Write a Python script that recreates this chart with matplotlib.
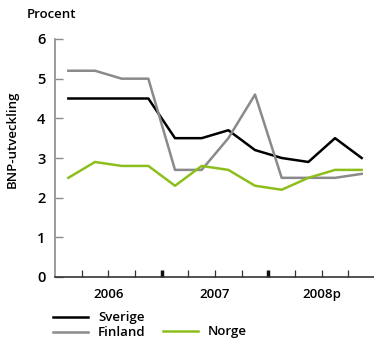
import numpy as np
import matplotlib.pyplot as plt

plt.rcParams['font.family'] = ['Open Sans', 'DejaVu Sans']

# quarterly GDP growth, 2006 Q1 .. 2008 Q4 (2008 forecast)
sverige = [4.5, 4.5, 4.5, 4.5, 3.5, 3.5, 3.7, 3.2, 3.0, 2.9, 3.5, 3.0]
finland = [5.2, 5.2, 5.0, 5.0, 2.7, 2.7, 3.5, 4.6, 2.5, 2.5, 2.5, 2.6]
norge = [2.5, 2.9, 2.8, 2.8, 2.3, 2.8, 2.7, 2.3, 2.2, 2.5, 2.7, 2.7]
years = ['2006', '2007', '2008p']

x = np.arange(len(sverige)) + 0.5
W = 600  # semibold
FS = 9.5

fig = plt.figure(figsize=(3.74, 3.40), dpi=100)
ax = fig.add_axes([55/374, 63/340, 319/374, 238/340])

ax.plot(x, sverige, color='black', lw=1.8, label='Sverige')
ax.plot(x, finland, color='#8a8a8a', lw=1.8, label='Finland')
ax.plot(x, norge, color='#8dbf1c', lw=1.8, label='Norge')

ax.set_xlim(0, 319/26.67)
ax.set_ylim(0, 6)

for s in ['top', 'right']:
    ax.spines[s].set_visible(False)
ax.spines['left'].set_color('#8a8a8a')
ax.spines['left'].set_linewidth(1.2)
ax.spines['bottom'].set_color('#333333')
ax.spines['bottom'].set_linewidth(1.2)

ax.set_yticks(range(7))
ax.tick_params(axis='y', direction='in', length=6, width=1.0, color='#8a8a8a',
               labelsize=10.5, pad=7)
for lab in ax.get_yticklabels():
    lab.set_fontweight(W)

# thin quarter ticks, heavy ticks at year boundaries
ax.set_xticks([1, 2, 3, 5, 6, 7, 9, 10, 11], minor=True)
ax.set_xticks([4, 8])
ax.set_xticklabels([])
ax.tick_params(axis='x', which='minor', direction='in', length=5, width=0.9, color='#333333')
ax.tick_params(axis='x', which='major', direction='in', length=5, width=2.5, color='#111111')

for xc, yr in zip([2, 6, 10], years):
    ax.text(xc, -0.28, yr, ha='center', va='top', fontsize=FS, fontweight=W,
            transform=ax.transData)

fig.text(27/374, 1 - 15/340, 'Procent', ha='left', va='center', fontsize=FS, fontweight=W)
fig.text(12/374, 1 - 139/340, 'BNP-utveckling', rotation=90, ha='center', va='center',
         fontsize=FS, fontweight=W)

h = ax.get_lines()
leg1 = fig.legend([h[0], h[1]], ['Sverige', 'Finland'], loc='upper left',
                  bbox_to_anchor=(48/374, 1 - 306/340), frameon=False,
                  prop={'weight': W, 'size': FS}, handlelength=2.6,
                  handletextpad=0.8, labelspacing=0.15, borderaxespad=0)
leg2 = fig.legend([h[2]], ['Norge'], loc='upper left',
                  bbox_to_anchor=(158/374, 1 - 320/340), frameon=False,
                  prop={'weight': W, 'size': FS}, handlelength=2.6,
                  handletextpad=0.8, borderaxespad=0)

fig.savefig('out.png', dpi=100)
